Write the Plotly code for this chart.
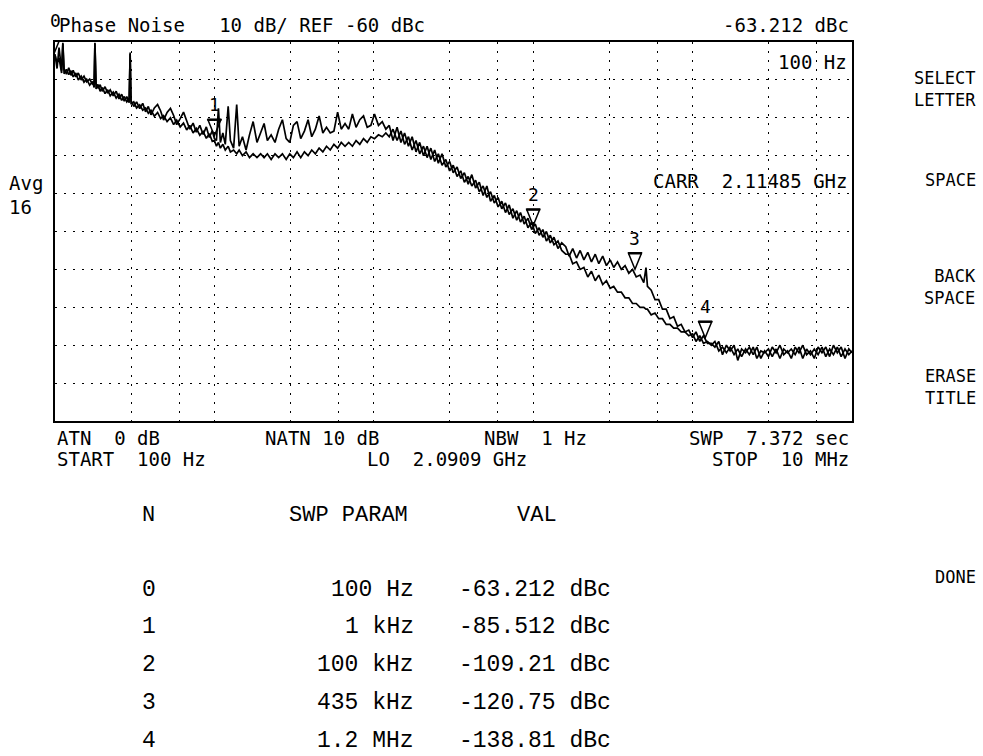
import math
import plotly.graph_objects as go

# Region 1: 100 Hz .. 1 kHz (both traces nearly coincide, with line spurs)
FREQ_1 = [100, 103, 106, 110, 112, 114, 118, 122, 126, 130, 135, 140, 146, 152, 158,
          165, 172, 176, 178, 181, 186, 192, 198, 206, 214, 222, 232, 242, 252, 262,
          272, 282, 292, 296, 300, 312, 325, 340, 355, 370, 385, 400, 420, 440, 460,
          480, 505, 530, 555, 580, 610, 640, 670, 700, 735, 770, 810, 850, 890, 930, 970]
TRACE_A_1 = [-63.2, -67, -61.5, -67.5, -60.2, -67, -68.5, -66.8, -68.8, -67.5,
             -69.2, -68.2, -70, -69, -70.5, -69.8, -71.2, -70.5, -60.2, -71,
             -72.2, -71.3, -73, -71.8, -73.5, -72.6, -74.2, -73, -75, -73.8,
             -75.6, -74.4, -76, -62.8, -75.5, -77, -75.8, -77.6, -76.2, -78.4,
             -77, -79.2, -77.4, -76.5, -78.2, -80.6, -78.6, -77.5, -79.4, -81.8,
             -80.2, -78.5, -80.8, -83, -81.4, -83.8, -82, -84.4, -82.4, -85.2, -83.4]
TRACE_B_1 = [-63.4, -65.5, -64.2, -68.2, -60.5, -68.4, -67.2, -68.6, -67.6, -69.2,
             -68.2, -70, -69, -70.6, -69.8, -71.4, -70.4, -72, -60.4, -72.4,
             -71.2, -73, -72, -73.6, -72.6, -74.2, -73.2, -74.8, -73.8, -75.4,
             -74.4, -75.8, -75, -63.2, -76.4, -75.8, -77.4, -76.6, -78, -77.4,
             -78.8, -78, -79.6, -78.6, -80.2, -79.4, -81, -80, -81.8, -80.6,
             -82.4, -81.4, -83.2, -82, -84, -82.8, -84.6, -83.6, -85.4, -84.2, -86.2]

# Region 2: 1 kHz .. 12 kHz (traces split: A upper/noisy, B lower)
FREQ_2 = [1000, 1030, 1060, 1090, 1130, 1170, 1220, 1260, 1320, 1380, 1430, 1500, 1580,
          1660, 1750, 1850, 1950, 2050, 2150, 2270, 2400, 2530, 2670, 2820, 2970, 3130,
          3300, 3480, 3670, 3870, 4080, 4300, 4540, 4790, 5050, 5330, 5620, 5930, 6250,
          6600, 6960, 7340, 7740, 8170, 8620, 9090, 9590, 10100, 10700, 11300, 11900]
TRACE_A_2 = [-85.5, -86, -77.5, -86.5, -84, -87, -77, -86, -88, -76.5,
             -87.5, -85, -88.5, -84.5, -81, -86.5, -84, -81.5, -86, -84.5,
             -86.5, -83, -80.5, -85.5, -86.5, -82, -81, -85.5, -83.5, -80.5,
             -85, -83, -79.5, -84, -82.5, -84, -83.5, -78.5, -83, -81.5,
             -83, -79, -82.5, -80.5, -79.5, -82.5, -82, -79, -82, -81, -83]
TRACE_B_2 = [-86, -87.5, -86.5, -88, -87, -88.5, -87.5, -89, -88.5, -89.5,
             -88.5, -90, -89, -90.5, -89.5, -90.5, -89.5, -90.5, -89.5, -91,
             -89.5, -90.5, -89.5, -91, -89.5, -90.5, -89, -90.5, -89, -90,
             -88.5, -89.5, -88, -89, -87.5, -88.5, -87, -88, -86.5, -87.5,
             -86.5, -87.5, -86, -87, -85.5, -86.5, -85, -85.5, -84.5, -85, -84]

# Region 3: 12.5 kHz .. 151 kHz (both traces roll off together)
FREQ_3 = [12500, 13200, 14000, 14800, 15600, 16500, 17400, 18400, 19400, 20500,
          21600, 22800, 24100, 25400, 26800, 28300, 29900, 31500, 33300, 35100,
          37000, 39100, 41200, 43500, 45900, 48500, 51200, 54000, 57000, 60200,
          63500, 67000, 70700, 74600, 78800, 83200, 87800, 92700, 97800, 103000,
          109000, 115000, 121000, 128000, 135000, 143000, 151000]
TRACE_A_3 = [-82, -86, -82.5, -86.5, -84, -87.5, -85, -89, -86.5, -90,
             -87.5, -91, -88.5, -92, -89.5, -93, -91.5, -94.5, -93, -96,
             -94.5, -97.5, -95, -98.5, -97, -100.5, -98, -102, -100.5, -103.5,
             -102, -105, -103, -106.5, -104.5, -107.5, -106, -109, -107.5, -110.5,
             -109, -111.5, -110, -113, -111.5, -114.5, -113]
TRACE_B_3 = [-85, -83, -86, -83.5, -87, -85, -88.5, -86, -89.5, -87.5,
             -90.5, -88, -91.5, -89.5, -92.5, -91, -94, -92.5, -95.5, -94,
             -97, -95.5, -98, -96.5, -99.5, -98, -101, -99.5, -102.5, -101,
             -104, -102.5, -105.5, -104, -107, -105, -108, -106.5, -109.5, -108,
             -111, -109.5, -112.5, -111, -113.5, -112.5, -115]

# Region 4: 160 kHz .. 1.24 MHz (traces split again)
FREQ_4 = [160000, 168000, 177000, 187000, 197000, 208000, 220000, 232000, 245000, 258000,
          273000, 288000, 304000, 320000, 338000, 357000, 377000, 398000, 420000, 443000,
          468000, 494000, 510000, 521000, 550000, 581000, 613000, 647000, 683000, 721000,
          761000, 804000, 848000, 896000, 946000, 1000000, 1050000, 1110000, 1170000, 1240000]
TRACE_A_4 = [-114, -116.5, -114.5, -117, -115, -117.5, -115.5, -118, -116, -118.5,
             -116.5, -119, -117.5, -119.5, -118, -120, -119, -121, -120, -122,
             -121.5, -123.5, -119.5, -124.5, -125.5, -128, -128, -130.5, -130.5, -133,
             -132.5, -135, -134.5, -136.5, -136, -138, -136.5, -139, -137.5, -139.5]
TRACE_B_4 = [-116, -116, -118.5, -118, -120, -119.5, -122, -120.5, -123, -121.5,
             -124, -123, -125, -124.5, -126, -126, -127.5, -127.5, -129, -129,
             -130, -130, -130.5, -130.5, -132, -131.5, -133, -133, -134.5, -134.5,
             -135.5, -135.5, -136.5, -136.5, -137.5, -137, -139, -137.5, -139.5, -139]

# Region 5: 1.31 MHz .. 10 MHz (noise floor)
FREQ_5 = [1310000, 1380000, 1460000, 1540000, 1630000, 1720000, 1820000, 1920000,
          2030000, 2150000, 2270000, 2400000, 2530000, 2680000, 2830000, 2990000,
          3160000, 3340000, 3530000, 3730000, 3940000, 4160000, 4400000, 4650000,
          4910000, 5190000, 5490000, 5800000, 6130000, 6480000, 6850000, 7240000,
          7650000, 8090000, 8550000, 9040000, 9550000, 10000000]
TRACE_A_5 = [-139.5, -140.5, -139, -142.5, -140, -141.5, -140, -144, -141, -142,
             -140.5, -142.5, -140.5, -143.5, -141.5, -143, -140.5, -142, -140, -142.5,
             -141.5, -143.5, -140.5, -142, -140, -142.5, -141.5, -143.5, -140.5, -142,
             -140.5, -143, -140, -142, -140.5, -143.5, -141, -142]
TRACE_B_5 = [-140, -139, -141.5, -140.5, -142, -140.5, -142.5, -141, -143, -141,
             -142.5, -140.5, -143.5, -141.5, -142, -141, -143, -141, -143.5, -141,
             -142, -141, -142.5, -140.5, -143.5, -141, -142.5, -141, -142.5, -140.5,
             -143, -141, -142.5, -140.5, -143, -141, -142.5, -141.5]

FREQ_HZ = FREQ_1 + FREQ_2 + FREQ_3 + FREQ_4 + FREQ_5
TRACE_A_DBC = TRACE_A_1 + TRACE_A_2 + TRACE_A_3 + TRACE_A_4 + TRACE_A_5
TRACE_B_DBC = TRACE_B_1 + TRACE_B_2 + TRACE_B_3 + TRACE_B_4 + TRACE_B_5
assert len(FREQ_HZ) == len(TRACE_A_DBC) == len(TRACE_B_DBC), (
    len(FREQ_HZ), len(TRACE_A_DBC), len(TRACE_B_DBC))

# Axis settings
X_START_HZ = 100
X_STOP_HZ = 10_000_000
REF_DBC = -60
DB_PER_DIV = 10
N_DIVS = 10
GRID_FREQS_HZ = [300, 600, 1000, 3000, 6000, 10000, 30000, 60000, 100000,
                 300000, 600000, 1000000, 3000000, 6000000]

# Markers
MARKER_N = [0, 1, 2, 3, 4]
MARKER_FREQ_HZ = [100, 1000, 100000, 435000, 1200000]
MARKER_DBC = [-63.212, -85.512, -109.21, -120.75, -138.81]
MARKER_PARAM_TEXT = ["100 Hz", "1 kHz", "100 kHz", "435 kHz", "1.2 MHz"]

# Soft-key menu labels
MENU_LABELS = ["SELECT<br>LETTER", "SPACE", "BACK<br>SPACE", "ERASE<br>TITLE", "DONE"]

# ---------------- layout geometry ----------------
W, H = 983, 756
L, R, T, B = 55, 852, 42, 421
HP_FONT = "DejaVu Sans Mono"
TAB_FONT = "Liberation Mono"


def px(x):
    return (x - L) / (R - L)


def py(y):
    return (B - y) / (B - T)


def nb(s):
    return s.replace(" ", "\u00a0")


def txt(text, x, y, anchor="left", size=19, family=HP_FONT):
    return dict(text=nb(text), x=px(x), y=py(y), xref="paper", yref="paper",
                xanchor=anchor, yanchor="middle", showarrow=False, align=anchor
                if anchor != "center" else "center",
                font=dict(family=family, size=size, color="black"))


fig = go.Figure()
fig.add_trace(go.Scatter(x=FREQ_HZ, y=TRACE_B_DBC, mode="lines",
                         line=dict(color="black", width=1.7), hoverinfo="skip"))
fig.add_trace(go.Scatter(x=FREQ_HZ, y=TRACE_A_DBC, mode="lines",
                         line=dict(color="black", width=1.7), hoverinfo="skip"))

shapes = []
annotations = []
for n, f, v in zip(MARKER_N, MARKER_FREQ_HZ, MARKER_DBC):
    shapes.append(dict(type="path", xref="x", yref="y", xsizemode="pixel", ysizemode="pixel",
                       xanchor=f, yanchor=v, path="M -6.5,19 L 6.5,19 L 0,3 Z",
                       line=dict(color="black", width=1.5), fillcolor="rgba(0,0,0,0)"))
    shapes.append(dict(type="path", xref="x", yref="y", xsizemode="pixel", ysizemode="pixel",
                       xanchor=f, yanchor=v, path="M -7,19 L 7,19",
                       line=dict(color="black", width=2.5)))
    annotations.append(dict(text=str(n), x=math.log10(f), y=v, xref="x", yref="y",
                            yshift=34, showarrow=False, xanchor="center", yanchor="middle",
                            font=dict(family=HP_FONT, size=18, color="black")))

# Screen header / readouts
annotations += [
    txt("Phase Noise   10 dB/ REF -60 dBc", 57, 25),
    txt(f"{MARKER_DBC[0]:.3f} dBc", 851, 25, anchor="right"),
    txt("100 Hz", 849, 62, anchor="right"),
    txt("CARR  2.11485 GHz", 849, 181, anchor="right"),
    txt("Avg", 7, 183),
    txt("16", 7, 207),
    txt("ATN  0 dB", 55, 438),
    txt("START  100 Hz", 55, 459),
    txt("NATN 10 dB", 263, 438),
    txt("LO  2.0909 GHz", 365, 459),
    txt("NBW  1 Hz", 482, 438),
    txt("SWP  7.372 sec", 851, 438, anchor="right"),
    txt("STOP  10 MHz", 851, 459, anchor="right"),
]
# Soft-key menu
MENU_Y = [89, 180, 287, 387, 577]
for label, y in zip(MENU_LABELS, MENU_Y):
    annotations.append(txt(label, 978, y, anchor="right", size=17))

# Marker table
annotations += [
    txt("N", 140, 515, size=22, family=TAB_FONT),
    txt("SWP PARAM", 287, 515, size=22, family=TAB_FONT),
    txt("VAL", 515, 515, size=22, family=TAB_FONT),
]
ROW_Y = [590, 627, 665, 703, 741]
for n, ptxt, v, y in zip(MARKER_N, MARKER_PARAM_TEXT, MARKER_DBC, ROW_Y):
    vtxt = f"{v:.3f} dBc" if abs(v) < 100 else f"{v:.2f} dBc"
    annotations += [
        txt(str(n), 140, y, size=23, family=TAB_FONT),
        txt(ptxt, 416, y, anchor="right", size=23, family=TAB_FONT),
        txt(vtxt, 613, y, anchor="right", size=23, family=TAB_FONT),
    ]

axis_common = dict(showticklabels=False, ticks="", showgrid=True, gridcolor="black",
                   gridwidth=1, griddash="2px,7px", showline=True, linecolor="black",
                   linewidth=2, mirror=True, zeroline=False, fixedrange=True)

fig.update_layout(
    width=W, height=H,
    margin=dict(l=L, r=W - R, t=T, b=H - B, pad=0),
    paper_bgcolor="white", plot_bgcolor="white",
    showlegend=False,
    xaxis=dict(type="log", range=[math.log10(X_START_HZ), math.log10(X_STOP_HZ)],
               tickmode="array", tickvals=GRID_FREQS_HZ, **axis_common),
    yaxis=dict(range=[REF_DBC - DB_PER_DIV * N_DIVS, REF_DBC], tickmode="linear",
               tick0=REF_DBC, dtick=DB_PER_DIV, **axis_common),
    shapes=shapes,
    annotations=annotations,
)

fig.write_html(
    "out.html",
    config={"displayModeBar": False},
    post_script="document.body.style.margin='0';document.body.style.padding='0';",
)
